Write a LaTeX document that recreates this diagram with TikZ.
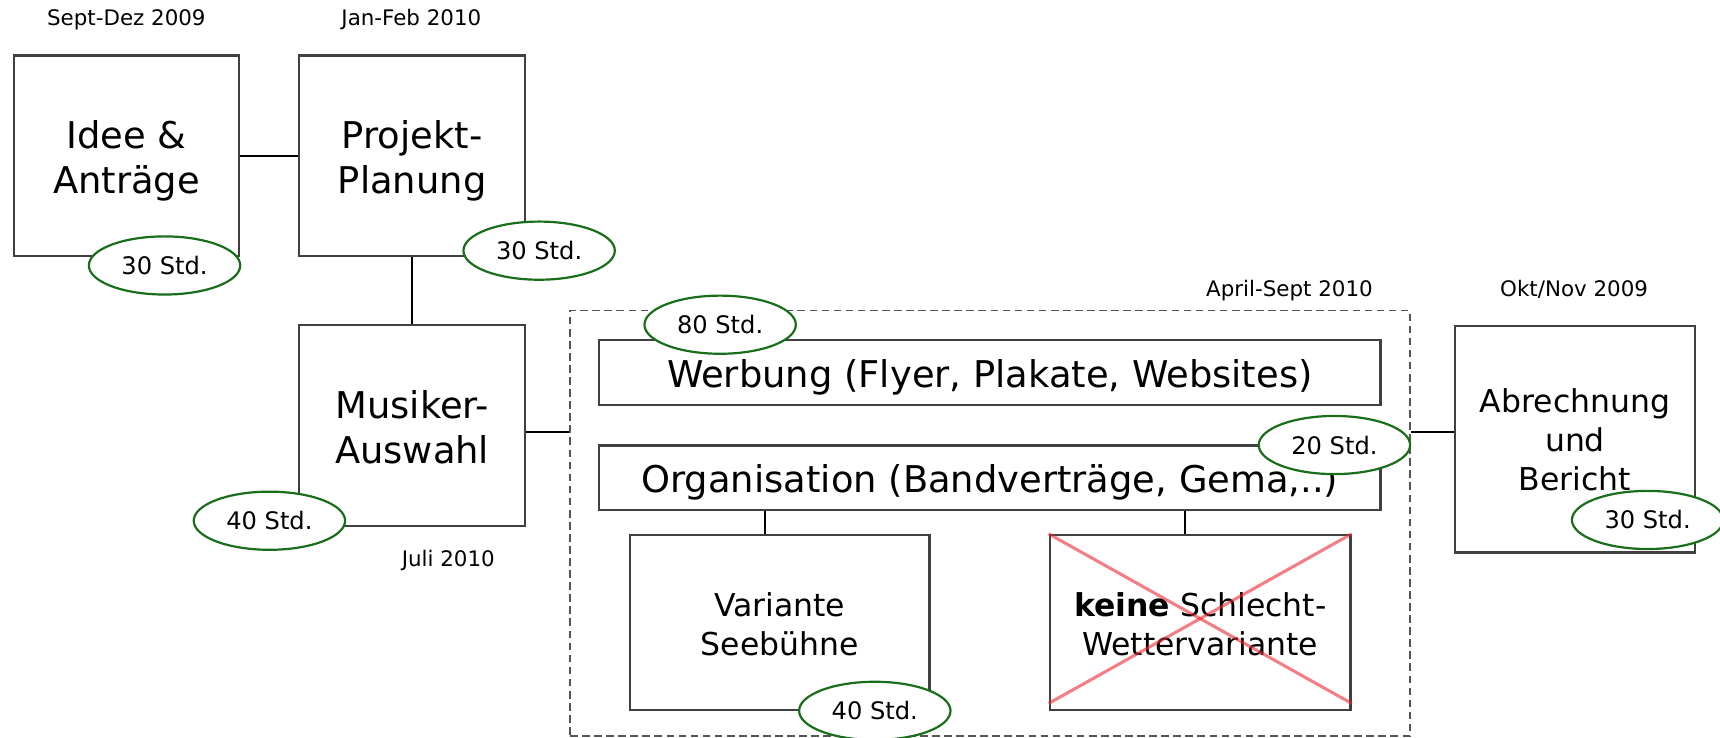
\documentclass[tikz,border=0pt]{standalone}
\usepackage{fontspec}
\setmainfont{DejaVu Sans}
\usetikzlibrary{calc,shapes.geometric}
\definecolor{boxgray}{HTML}{404040}
\definecolor{stdgreen}{RGB}{25,110,25}
\definecolor{dashgray}{HTML}{555555}
\definecolor{crossred}{RGB}{235,40,50}
\begin{document}
\begin{tikzpicture}[x=1pt,y=-1pt,
  box/.style={draw=boxgray, line width=2.1pt, fill=white, inner sep=0pt},
  txt/.style={align=center, inner sep=0pt},
  big/.style={font=\fontsize{33.6}{41}\selectfont},
  mid/.style={font=\fontsize{28.7}{35.5}\selectfont},
  small/.style={font=\fontsize{19.5}{23}\selectfont},
  std/.style={draw=stdgreen, line width=2pt, fill=white, ellipse, minimum width=138pt, minimum height=53pt, inner sep=0pt, font=\fontsize{22}{26}\selectfont},
  conn/.style={line width=2pt, black},
  container/.style={draw=dashgray, line width=1.5pt, dash pattern=on 7pt off 4pt, inner sep=0pt, minimum width=765.8pt, minimum height=387.8pt},
  cross/.style={draw=crossred, opacity=0.6, line width=2.8pt}
]
\useasboundingbox (0,0) rectangle (1568,672);
\fill[white] (0,0) rectangle (1568,672);

% dashed container
\node[container] (cont) at (902.5,477.1) {};

% labels
\node[small, anchor=base] (l1) at (115.2,23.7) {Sept-Dez 2009};
\node[small, anchor=base] (l2) at (375,23.7) {Jan-Feb 2010};
\node[small, anchor=base] (l3) at (1175.5,270.4) {April-Sept 2010};
\node[small, anchor=base] (l4) at (1435,270.4) {Okt/Nov 2009};
\node[small, anchor=base] (l5) at (408.7,516.6) {Juli 2010};

% boxes
\node[box, minimum width=205pt, minimum height=183pt] (idee) at (115.4,142) {};
\node[box, minimum width=205.8pt, minimum height=183pt] (projekt) at (375.7,142) {};
\node[box, minimum width=205.8pt, minimum height=183.5pt] (musiker) at (375.7,387.8) {};
\node[box, minimum width=712pt, minimum height=59.3pt] (werbung) at (902.35,339.85) {};
\node[box, minimum width=712pt, minimum height=59pt] (orga) at (902.35,435.5) {};
\node[box, minimum width=273.3pt, minimum height=159.5pt] (variante) at (710.75,567.45) {};
\node[box, minimum width=274.2pt, minimum height=159.5pt] (keine) at (1094.1,567.45) {};
\node[box, minimum width=218.8pt, minimum height=206.6pt] (abr) at (1435.8,400.5) {};

% box texts
\node[txt, big] (ideet) at ($(idee)+(0,4.5)$) {Idee \&\\Anträge};
\node[txt, big] (projektt) at ($(projekt)+(0,4.5)$) {Projekt-\\Planung};
\node[txt, big] (musikert) at ($(musiker)+(0,1.5)$) {Musiker-\\Auswahl};
\node[txt, big] (werbungt) at ($(werbung)+(0,4)$) {Werbung (Flyer, Plakate, Websites)};
\node[txt, big] (orgat) at ($(orga)+(0,4.5)$) {Organisation (Bandverträge, Gema,..)};
\node[txt, mid] (variantet) at ($(variante)+(0,2)$) {Variante\\Seebühne};
\node[txt, mid] (keinet) at ($(keine)+(0,1.5)$) {\textbf{keine} Schlecht-\\Wettervariante};
\node[txt, mid] (abrt) at (abr) {Abrechnung\\und\\Bericht};

% connectors
\draw[conn] (idee) -- (projekt);
\draw[conn] (projekt) -- (musiker);
\coordinate (mc) at ($(musiker.east)+(0,5.7)$);
\draw[conn] (mc) -- (mc -| cont.west);
\coordinate (ac) at ($(abr.west)+(0,-7)$);
\draw[conn] (ac) -- (ac -| cont.east);
\coordinate (vc) at ($(variante.north)+(-13.5,0)$);
\draw[conn] (vc) -- (vc |- orga.south);
\coordinate (kc) at ($(keine.north)+(-14.2,0)$);
\draw[conn] (kc) -- (kc |- orga.south);

% hours
\node[std] (s1) at (150,242) {30 Std.};
\node[std] (s2) at (491.5,228.5) {30 Std.};
\node[std] (s3) at (245.6,474.7) {40 Std.};
\node[std] (s4) at (656.5,296) {80 Std.};
\node[std] (s5) at (1216.5,405.7) {20 Std.};
\node[std] (s6) at (797.5,648) {40 Std.};
\node[std] (s7) at (1502,474) {30 Std.};

% cross
\coordinate (kse) at ($(keine.south east)+(0,-7)$);
\coordinate (ksw) at ($(keine.south west)+(0,-7)$);
\draw[cross] (keine.north west) -- (kse);
\draw[cross] (ksw) -- (keine.north east);
\end{tikzpicture}
\end{document}
